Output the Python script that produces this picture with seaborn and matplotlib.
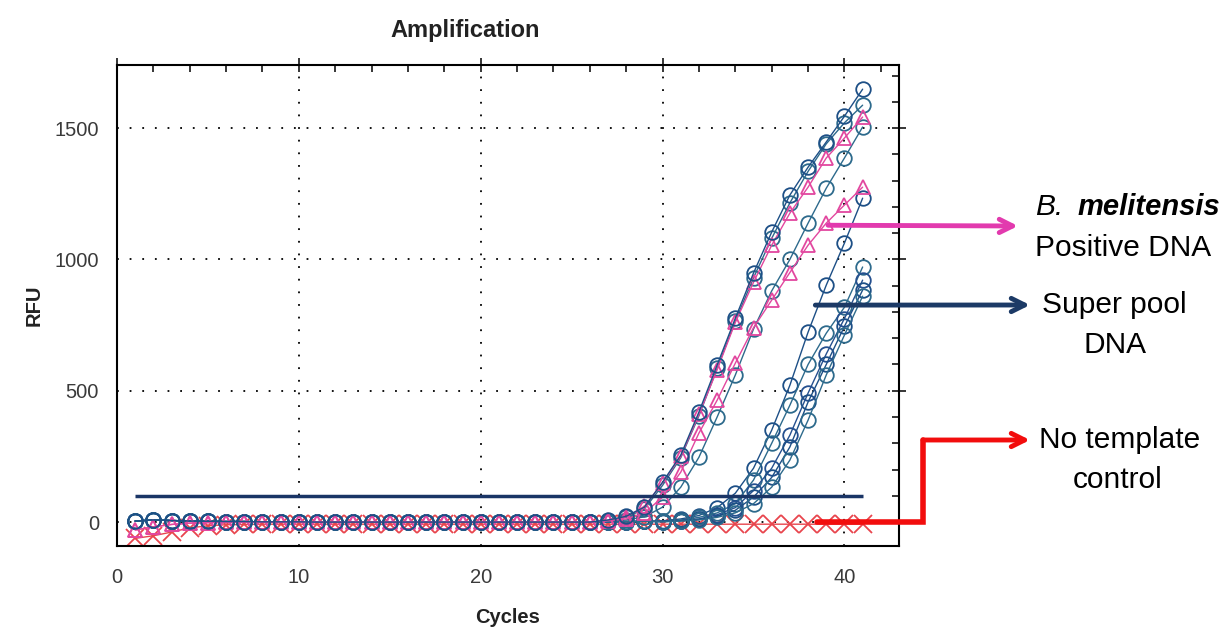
import matplotlib
matplotlib.use("Agg")
import matplotlib.pyplot as plt
import seaborn as sns
import pandas as pd
from matplotlib.lines import Line2D
from matplotlib.ticker import MultipleLocator

cycles = list(range(1, 42))
threshold = 100

# flat part of the traces, cycles 1..29
base_blue = [4, 8, 6, 4, 3, 2, 2, 1, 1, 1, 0, 0, 0, 0, 0, 0, 0, 0, 0, 0, 0, 0, 0, 0, 0, 0, 1, 2, 3]
base_pink = [-30, -18, -9, -4, -2, -1, 0, 0, 0, 0, 0, 0, 0, 0, 0, 0, 0, 0, 0, 0, 0, 0, 0, 0, 0, 0]

# rising part, cycles 27..41 (early group)
a1_rise = [8, 22, 57, 152, 255, 419, 598, 776, 948, 1104, 1245, 1351, 1447, 1545, 1648]
a3_rise = [6, 18, 50, 140, 245, 405, 585, 765, 930, 1080, 1215, 1335, 1440, 1520, 1587]
a4_rise = [3, 8, 20, 57, 133, 247, 400, 560, 735, 880, 1000, 1138, 1271, 1386, 1504]
p1_rise = [7, 20, 60, 150, 250, 410, 580, 760, 913, 1054, 1176, 1275, 1386, 1462, 1542]
p2_rise = [5, 12, 35, 95, 190, 339, 464, 605, 740, 845, 950, 1054, 1138, 1207, 1275]

# rising part, cycles 30..41 (super pool, late group)
b1_rise = [5, 12, 25, 55, 110, 205, 350, 521, 723, 902, 1062, 1233]
b2_rise = [3, 8, 18, 35, 70, 160, 300, 445, 600, 719, 818, 971]
b3_rise = [2, 6, 12, 28, 55, 120, 205, 331, 491, 640, 775, 921]
b4_rise = [2, 5, 10, 22, 45, 95, 170, 286, 457, 600, 745, 883]
b5_rise = [1, 4, 8, 18, 35, 70, 133, 236, 388, 560, 712, 860]

# no template control
ntc = [-62, -52, -38, -22, -14, -10, -9, -8, -8, -8, -8, -8, -8, -8, -8, -8, -8, -8, -8, -8,
       -8, -8, -8, -8, -8, -8, -8, -8, -8, -8, -8, -8, -8, -8, -8, -8, -8, -8, -8, -8, -8]

navy = "#1d4f86"
teal = "#2d6a8c"
blue2 = "#25508f"
pink = "#e2479f"
red = "#e8454d"

traces = [
    ("B1", base_blue + b1_rise, navy, "o"),
    ("B2", base_blue + b2_rise, teal, "o"),
    ("B3", base_blue + b3_rise, blue2, "o"),
    ("B4", base_blue + b4_rise, navy, "o"),
    ("B5", base_blue + b5_rise, teal, "o"),
    ("A4", base_blue[:26] + a4_rise, teal, "o"),
    ("A3", base_blue[:26] + a3_rise, teal, "o"),
    ("P2", base_pink + p2_rise, pink, "^"),
    ("P1", base_pink + p1_rise, pink, "^"),
    ("A1", base_blue[:26] + a1_rise, navy, "o"),
]

sns.set_style("white")
plt.rcParams["font.family"] = ["Liberation Sans", "DejaVu Sans"]

fig = plt.figure(figsize=(12.2, 6.27), dpi=100)
ax = fig.add_axes([117 / 1220, 1 - 546 / 627, (899 - 117) / 1220, (546 - 65) / 627])

df_ntc = pd.DataFrame({"Cycles": cycles, "RFU": ntc})
sns.lineplot(data=df_ntc, x="Cycles", y="RFU", ax=ax, color=red, marker="x",
             markersize=13, markeredgewidth=1.3, markeredgecolor=red, linewidth=1.0)

for name, vals, color, marker in traces:
    df = pd.DataFrame({"Cycles": cycles, "RFU": vals})
    sns.lineplot(data=df, x="Cycles", y="RFU", ax=ax, color=color, marker=marker,
                 markersize=10.5, markerfacecolor="none", markeredgecolor=color,
                 markeredgewidth=1.3, linewidth=1.0)

ax.hlines(threshold, 1, 41, color="#1a3566", linewidth=2.5, zorder=5)

ax.set_xlim(0, 43)
ax.set_ylim(-91, 1740)
ax.xaxis.set_major_locator(MultipleLocator(10))
ax.xaxis.set_minor_locator(MultipleLocator(2))
ax.yaxis.set_major_locator(MultipleLocator(500))
ax.yaxis.set_minor_locator(MultipleLocator(100))
ax.grid(True, which="major", color="black", linestyle=(0, (1, 6)), linewidth=1.3)
ax.tick_params(which="major", direction="inout", length=10, width=1.3,
               top=True, right=True, labelsize=14.5, labelcolor="#3a3a3a")
ax.tick_params(axis="x", which="major", pad=11)
ax.tick_params(axis="y", which="major", pad=8)
ax.tick_params(which="minor", direction="in", length=5, width=1.3, top=True, right=True)
for s in ax.spines.values():
    s.set_color("black")
    s.set_linewidth(1.5)

ax.set_xlabel("Cycles", fontsize=14.5, fontweight="bold", labelpad=15, color="#222222")
ax.set_ylabel("RFU", fontsize=14.5, fontweight="bold", labelpad=8, color="#222222")
fig.text(465 / 1220, 1 - 30 / 627, "Amplification", fontsize=17, fontweight="bold",
         ha="center", va="center", color="#222222")


def fpx(px, py):
    return (px / 1220, 1 - py / 627)


arrow = dict(arrowstyle="->", lw=3.5, mutation_scale=24, shrinkA=0, shrinkB=0)
ax.annotate("", xy=fpx(1018, 226), xycoords="figure fraction", xytext=(39.1, 1130),
            textcoords="data", arrowprops=dict(arrow, color="#e23aae"), annotation_clip=False)
ax.annotate("", xy=fpx(1030, 305), xycoords="figure fraction", xytext=(38.4, 826),
            textcoords="data", arrowprops=dict(arrow, color="#1c3a66"), annotation_clip=False)

# red elbow connector for the no template control
x0, y0 = fig.transFigure.inverted().transform(ax.transData.transform((38.5, 0)))
xm, ym = fpx(923, 440)
fig.add_artist(Line2D([x0, xm, xm], [y0, y0, ym], transform=fig.transFigure,
                      color="#f20d0d", linewidth=4, solid_joinstyle="miter"))
ax.annotate("", xy=fpx(1030, 440), xycoords="figure fraction", xytext=(xm, ym),
            textcoords="figure fraction", arrowprops=dict(arrow, color="#f20d0d"),
            annotation_clip=False)

fs = 21.5
fig.text(*fpx(1035, 207), "B.", fontsize=fs, fontstyle="italic", ha="left", va="center", color="black")
fig.text(*fpx(1078, 207), "melitensis", fontsize=fs - 0.5, fontstyle="italic", fontweight="bold",
         ha="left", va="center", color="black")
fig.text(*fpx(1123, 248), "Positive DNA", fontsize=fs, ha="center", va="center", color="black")
fig.text(*fpx(1114, 305), "Super pool", fontsize=fs, ha="center", va="center", color="black")
fig.text(*fpx(1115, 345), "DNA", fontsize=fs, ha="center", va="center", color="black")
fig.text(*fpx(1120, 440), "No template", fontsize=fs, ha="center", va="center", color="black")
fig.text(*fpx(1118, 480), "control", fontsize=fs, ha="center", va="center", color="black")

fig.savefig("out.png", dpi=100)
